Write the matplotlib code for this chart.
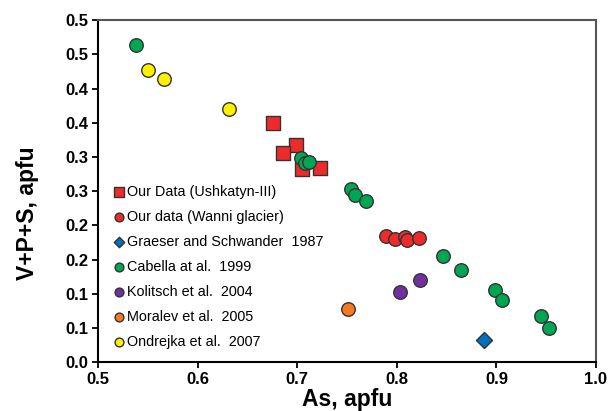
import matplotlib
matplotlib.use("Agg")
import matplotlib.pyplot as plt

plt.rcParams["font.family"] = ["Liberation Sans", "DejaVu Sans"]

# Our Data (Ushkatyn-III)
ush_x = [0.6755, 0.6986, 0.6856, 0.7050, 0.7233]
ush_y = [0.350, 0.317, 0.306, 0.283, 0.2846]

# Our data (Wanni glacier)
wanni_x = [0.789, 0.7986, 0.808, 0.8103, 0.822]
wanni_y = [0.1847, 0.180, 0.1837, 0.179, 0.182]

# Graeser and Schwander 1987
graeser_x = [0.8875]
graeser_y = [0.033]

# Cabella at al. 1999
cabella_x = [0.538, 0.7036, 0.7076, 0.712, 0.7544, 0.7578, 0.7695,
             0.8464, 0.8644, 0.8985, 0.906, 0.945, 0.9527]
cabella_y = [0.464, 0.299, 0.291, 0.292, 0.253, 0.2446, 0.236,
             0.156, 0.135, 0.105, 0.091, 0.068, 0.050]

# Kolitsch et al. 2004
kolitsch_x = [0.8036, 0.8236]
kolitsch_y = [0.103, 0.120]

# Moralev et al. 2005
moralev_x = [0.7507]
moralev_y = [0.078]

# Ondrejka et al. 2007
ondrejka_x = [0.5498, 0.5665, 0.632]
ondrejka_y = [0.427, 0.4146, 0.370]

x_ticks = [0.5, 0.6, 0.7, 0.8, 0.9, 1.0]
x_tick_labels = ["0.5", "0.6", "0.7", "0.8", "0.9", "1.0"]
y_ticks = [0.0, 0.05, 0.1, 0.15, 0.2, 0.25, 0.3, 0.35, 0.4, 0.45, 0.5]
y_tick_labels = ["0.0", "0.1", "0.1", "0.2", "0.2", "0.3", "0.3", "0.4", "0.4", "0.5", "0.5"]

fig = plt.figure(figsize=(6.1, 4.11), dpi=100)
ax = fig.add_axes([0.1607, 0.1185, 0.8163, 0.8325])

edge = "#333333"
ms = 95
ax.scatter(cabella_x, cabella_y, s=ms, marker="o", color="#00A651", edgecolors=edge,
           linewidths=1, zorder=3, label="Cabella at al.  1999")
ax.scatter(ush_x, ush_y, s=ms * 1.05, marker="s", color="#EE2B2B", edgecolors=edge,
           linewidths=1, zorder=2, label="Our Data (Ushkatyn-III)")
ax.scatter(wanni_x, wanni_y, s=ms, marker="o", color="#EE2B2B", edgecolors=edge,
           linewidths=1, zorder=3, label="Our data (Wanni glacier)")
ax.scatter(graeser_x, graeser_y, s=ms * 0.7, marker="D", color="#0070C0", edgecolors=edge,
           linewidths=1, zorder=3, label="Graeser and Schwander  1987")
ax.scatter(kolitsch_x, kolitsch_y, s=ms, marker="o", color="#7030A0", edgecolors=edge,
           linewidths=1, zorder=3, label="Kolitsch et al.  2004")
ax.scatter(moralev_x, moralev_y, s=ms, marker="o", color="#F47A20", edgecolors=edge,
           linewidths=1, zorder=3, label="Moralev et al.  2005")
ax.scatter(ondrejka_x, ondrejka_y, s=ms, marker="o", color="#FFF000", edgecolors=edge,
           linewidths=1, zorder=3, label="Ondrejka et al.  2007")

ax.set_xlim(0.5, 1.0)
ax.set_ylim(0.0, 0.5)
ax.set_xticks(x_ticks)
ax.set_xticklabels(x_tick_labels)
ax.set_yticks(y_ticks)
ax.set_yticklabels(y_tick_labels)
ax.tick_params(direction="out", length=4, width=1.3, labelsize=12, pad=3)
for lab in ax.get_xticklabels() + ax.get_yticklabels():
    lab.set_fontweight("bold")

for side in ["left", "bottom"]:
    ax.spines[side].set_color("black")
    ax.spines[side].set_linewidth(1.5)
for side in ["top", "right"]:
    ax.spines[side].set_color("#555555")
    ax.spines[side].set_linewidth(1.5)

ax.set_xlabel("As, apfu", fontsize=16.5, fontweight="bold", labelpad=0.5)
ax.set_ylabel("V+P+S, apfu", fontsize=16.5, fontweight="bold")
# the label in the original sits a bit below the axis middle
ax.yaxis.set_label_coords(-0.1426, 0.437)
ax.yaxis.label.set_verticalalignment("center")

handles, labels = ax.get_legend_handles_labels()
order = ["Our Data (Ushkatyn-III)", "Our data (Wanni glacier)", "Graeser and Schwander  1987",
         "Cabella at al.  1999", "Kolitsch et al.  2004", "Moralev et al.  2005",
         "Ondrejka et al.  2007"]
lookup = dict(zip(labels, handles))
ax.legend([lookup[k] for k in order], order, loc="lower left", bbox_to_anchor=(0.0, 0.0),
          frameon=False, fontsize=10.4, markerscale=0.65, handletextpad=0.05,
          handlelength=1.0, labelspacing=0.76, borderaxespad=0.55)

fig.savefig("out.png", dpi=100)
